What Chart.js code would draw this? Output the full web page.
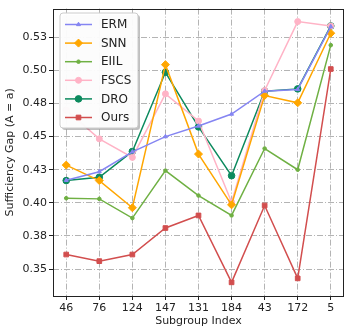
<!DOCTYPE html>
<html>
<head>
<meta charset="utf-8">
<script src="https://cdn.jsdelivr.net/npm/chart.js@4"></script>
<style>
  html, body { margin: 0; padding: 0; background: #fff; }
  #wrap { width: 349px; height: 326px; }
</style>
</head>
<body>
<div id="wrap"><canvas id="chart" width="349" height="326"></canvas></div>
<script>
const subgroups = ['46', '76', '124', '147', '131', '184', '43', '172', '5'];
const yTickValues = [0.35, 0.375, 0.40, 0.425, 0.45, 0.475, 0.50, 0.525];
const yTickLabels = ['0.35', '0.38', '0.40', '0.43', '0.45', '0.48', '0.50', '0.53'];

const erm  = [0.417, 0.4235, 0.4385, 0.450, 0.458, 0.467, 0.4843, 0.4856, 0.533];
const snn  = [0.4285, 0.4168, 0.3963, 0.5043, 0.4368, 0.3985, 0.481, 0.4755, 0.528];
const eiil = [0.4035, 0.403, 0.3885, 0.4243, 0.4055, 0.3905, 0.441, 0.425, 0.519];
const fscs = [0.470, 0.4483, 0.4343, 0.4823, 0.4618, 0.4005, 0.4848, 0.5368, 0.5335];
const dro  = [0.4168, 0.4193, 0.4388, 0.4985, 0.4573, 0.4205, 0.4843, 0.486, 0.5335];
const ours = [0.361, 0.356, 0.361, 0.381, 0.3905, 0.340, 0.398, 0.343, 0.501];

const FONT = 'DejaVu Sans';

function series(label, values, color, style, radius) {
  return {
    label: label,
    data: values.map((v, i) => ({ x: i, y: v })),
    borderColor: color,
    backgroundColor: color,
    pointBackgroundColor: color,
    pointBorderColor: color,
    borderWidth: 1.5,
    pointStyle: style,
    pointRadius: radius,
    pointBorderWidth: 1,
    tension: 0
  };
}

// legend in the top-left corner of the plot, matplotlib style
const boxLegend = {
  id: 'boxLegend',
  afterDraw(chart) {
    const ctx = chart.ctx;
    const x0 = 60, y0 = 13, w = 78, h = 115;
    ctx.save();
    // shadow
    ctx.fillStyle = 'rgba(0,0,0,0.25)';
    ctx.beginPath();
    ctx.roundRect(x0 + 2, y0 + 2, w, h, 3);
    ctx.fill();
    ctx.fillStyle = 'rgba(255,255,255,0.95)';
    ctx.strokeStyle = '#cccccc';
    ctx.lineWidth = 1;
    ctx.beginPath();
    ctx.roundRect(x0, y0, w, h, 3);
    ctx.fill();
    ctx.stroke();
    ctx.font = '12px ' + FONT;
    ctx.textBaseline = 'middle';
    chart.data.datasets.forEach((ds, i) => {
      const y = 24.5 + i * 18.6;
      ctx.strokeStyle = ds.borderColor;
      ctx.lineWidth = 1.5;
      ctx.beginPath();
      ctx.moveTo(65, y);
      ctx.lineTo(92, y);
      ctx.stroke();
      ctx.fillStyle = ds.borderColor;
      ctx.lineWidth = 1;
      Chart.helpers.drawPoint(ctx, { pointStyle: ds.pointStyle, radius: ds.pointRadius, rotation: 0, borderWidth: 1 }, 78.5, y);
      ctx.fillStyle = '#222';
      ctx.fillText(ds.label, 101, y + 0.5);
    });
    ctx.restore();
  }
};

const frame = {
  id: 'frame',
  afterDatasetsDraw(chart) {
    const a = chart.chartArea;
    const ctx = chart.ctx;
    ctx.save();
    ctx.strokeStyle = '#222';
    ctx.lineWidth = 1;
    ctx.strokeRect(Math.round(a.left) + 0.5, Math.round(a.top) + 0.5,
      Math.round(a.right - a.left) - 1, Math.round(a.bottom - a.top));
    ctx.restore();
  }
};

new Chart(document.getElementById('chart'), {
  type: 'line',
  data: {
    datasets: [
      series('ERM', erm, '#8585f2', 'triangle', 2.3),
      series('SNN', snn, '#ffa600', 'rectRot', 4),
      series('EIIL', eiil, '#6fb043', 'circle', 1.8),
      series('FSCS', fscs, '#ffb3c6', 'circle', 3),
      series('DRO', dro, '#0c8a5e', 'circle', 3.3),
      series('Ours', ours, '#d24e4e', 'rect', 3.3)
    ]
  },
  options: {
    responsive: false,
    animation: false,
    layout: { padding: { top: 7, right: 1, left: 0, bottom: 0 } },
    plugins: { legend: { display: false }, tooltip: { enabled: false } },
    scales: {
      x: {
        type: 'linear',
        min: -0.4,
        max: 8.4,
        afterBuildTicks: s => { s.ticks = subgroups.map((_, i) => ({ value: i })); },
        afterFit: s => { s.height = 30; },
        ticks: {
          callback: v => subgroups[v],
          color: '#222',
          font: { family: FONT, size: 11 },
          padding: 2,
          maxRotation: 0
        },
        grid: { color: '#b4b4b4', tickColor: '#222', tickLength: 4, lineWidth: 1 },
        border: { display: false, dash: [6, 2, 1, 2] },
        title: { display: true, text: 'Subgroup Index', color: '#222', font: { family: FONT, size: 11 }, padding: { top: 0, bottom: -2 } }
      },
      y: {
        min: 0.3297,
        max: 0.5466,
        afterBuildTicks: s => { s.ticks = yTickValues.map(v => ({ value: v })); },
        afterFit: s => { s.width = 53; },
        ticks: {
          callback: (v, i) => yTickLabels[i],
          color: '#222',
          font: { family: FONT, size: 11 },
          padding: 2
        },
        grid: { color: '#b4b4b4', tickColor: '#222', tickLength: 4, lineWidth: 1 },
        border: { display: false, dash: [6, 2, 1, 2] },
        title: { display: true, text: 'Sufficiency Gap (A = a)', color: '#222', font: { family: FONT, size: 11 }, padding: { top: 4, bottom: 0 } }
      }
    }
  },
  plugins: [frame, boxLegend]
});
</script>
</body>
</html>
